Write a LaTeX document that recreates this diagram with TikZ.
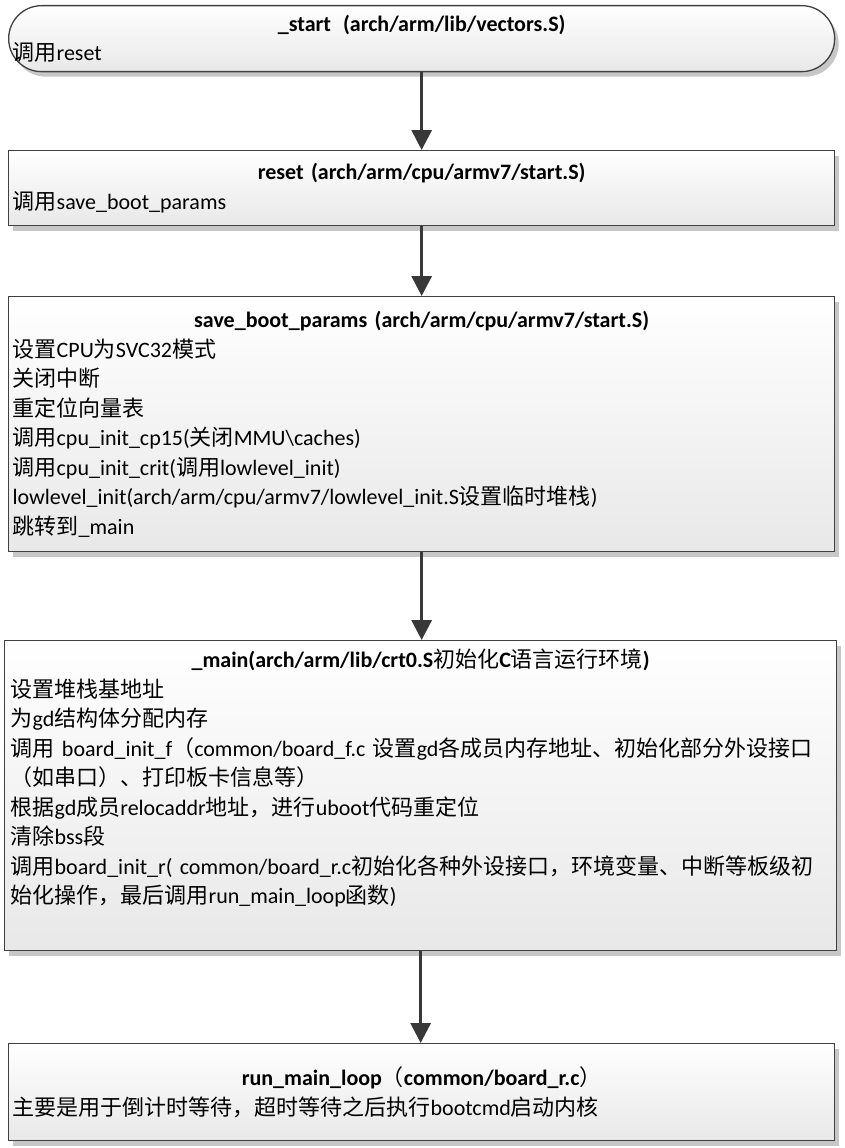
\documentclass[tikz,border=0pt]{standalone}
\usepackage{fontspec}
\setmainfont{Carlito}
\newfontfamily\cjk[BoldFont={Noto Sans CJK SC}]{Noto Sans CJK SC}
\usetikzlibrary{arrows.meta,shadows,calc}

\XeTeXinterchartokenstate=1
\newXeTeXintercharclass\cjkclass
\newcount\mycnt
\mycnt="3000 \loop \XeTeXcharclass\mycnt=\cjkclass \advance\mycnt by 1 \ifnum\mycnt<"3040 \repeat
\mycnt="4E00 \loop \XeTeXcharclass\mycnt=\cjkclass \advance\mycnt by 1 \ifnum\mycnt<"A000 \repeat
\mycnt="FF00 \loop \XeTeXcharclass\mycnt=\cjkclass \advance\mycnt by 1 \ifnum\mycnt<"FFF0 \repeat
\XeTeXinterchartoks 0 \cjkclass={\cjk}
\XeTeXinterchartoks 4095 \cjkclass={\cjk}
\XeTeXinterchartoks \cjkclass 0={\rmfamily}
\XeTeXinterchartoks \cjkclass 4095={\rmfamily}

\tikzset{
  box/.style={draw=black!75, line width=1.3pt, top color=white, bottom color=black!9,
    drop shadow={shadow xshift=4pt, shadow yshift=-5pt, fill=black!22, opacity=1},
    anchor=north west, inner xsep=4pt, inner ysep=0pt, align=left,
    font=\fontsize{22}{29.5}\selectfont},
  flow/.style={draw=black!78, line width=3pt, -{Triangle[width=20pt,length=20pt]}}
}

\begin{document}
\begin{tikzpicture}[x=1pt,y=-1pt]
\useasboundingbox (0,0) rectangle (845,1148);

\node[box, rounded corners=33pt, minimum width=826pt, minimum height=66pt, text width=818pt] (b1) at (8,5)
  {\makebox[\linewidth]{\bfseries \_start\hspace{12pt}(arch/arm/lib/vectors.S)}\\
   调用reset};

\node[box, minimum width=826pt, minimum height=75pt, text width=818pt] (b2) at (8,150)
  {\makebox[\linewidth]{\bfseries reset (arch/arm/cpu/armv7/start.S)}\\
   调用save\_boot\_params};

\node[box, minimum width=826pt, minimum height=255pt, text width=818pt] (b3) at (8,296)
  {\makebox[\linewidth]{\bfseries save\_boot\_params (arch/arm/cpu/armv7/start.S)}\\
   设置CPU为SVC32模式\\
   关闭中断\\
   重定位向量表\\
   调用cpu\_init\_cp15(关闭MMU\textbackslash caches)\\
   调用cpu\_init\_crit(调用lowlevel\_init)\\
   lowlevel\_init(arch/arm/cpu/armv7/lowlevel\_init.S设置临时堆栈)\\
   跳转到\_main};

\node[box, minimum width=832pt, minimum height=310pt, inner xsep=6pt, text width=820pt] (b4) at (4,640)
  {\makebox[\linewidth]{\bfseries \_main(arch/arm/lib/crt0.S初始化C语言运行环境)}\\
   设置堆栈基地址\\
   为gd结构体分配内存\\
   调用 board\_init\_f（common/board\_f.c 设置gd各成员内存地址、初始化部分外设接口\\
   （如串口）、打印板卡信息等）\\
   根据gd成员relocaddr地址，进行uboot代码重定位\\
   清除bss段\\
   调用board\_init\_r( common/board\_r.c初始化各种外设接口，环境变量、中断等板级初\\
   始化操作，最后调用run\_main\_loop函数)\\
   \strut};

\node[box, minimum width=826pt, minimum height=97pt, text width=818pt] (b5) at (8,1043)
  {\makebox[\linewidth]{\bfseries run\_main\_loop（common/board\_r.c）}\\
   主要是用于倒计时等待，超时等待之后执行bootcmd启动内核};

\draw[flow] (b1.south) -- (b1.south |- b2.north);
\draw[flow] (b2.south) -- (b2.south |- b3.north);
\draw[flow] (b3.south) -- (b3.south |- b4.north);
\draw[flow] (b4.south) -- (b4.south |- b5.north);
\end{tikzpicture}
\end{document}
